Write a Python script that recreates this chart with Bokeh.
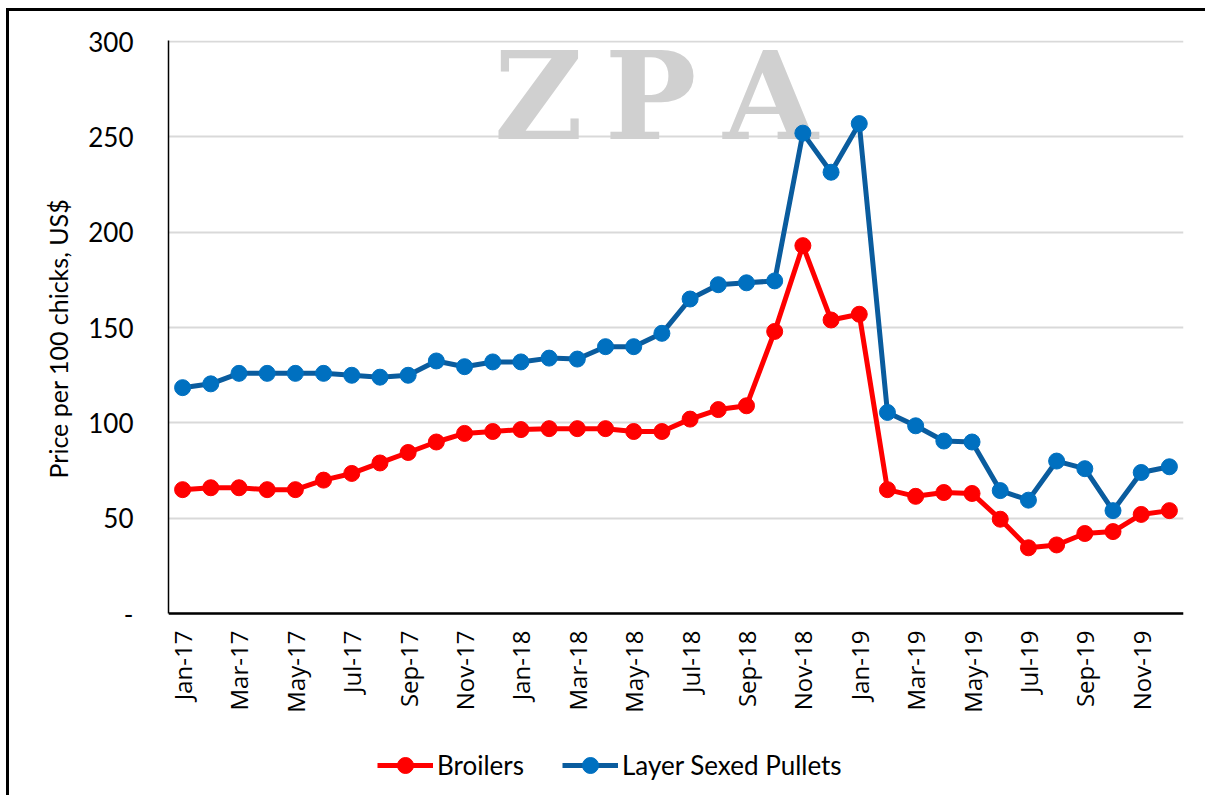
from bokeh.plotting import figure
from bokeh.models import Legend, LegendItem, Label, FixedTicker, Range1d, Title
from bokeh.embed import file_html
from bokeh.resources import INLINE

months = ["Jan-17", "Feb-17", "Mar-17", "Apr-17", "May-17", "Jun-17", "Jul-17", "Aug-17", "Sep-17", "Oct-17", "Nov-17", "Dec-17",
          "Jan-18", "Feb-18", "Mar-18", "Apr-18", "May-18", "Jun-18", "Jul-18", "Aug-18", "Sep-18", "Oct-18", "Nov-18", "Dec-18",
          "Jan-19", "Feb-19", "Mar-19", "Apr-19", "May-19", "Jun-19", "Jul-19", "Aug-19", "Sep-19", "Oct-19", "Nov-19", "Dec-19"]
broilers = [65, 66, 66, 65, 65, 70, 73.5, 79, 84.5, 90, 94.5, 95.5,
            96.5, 97, 97, 97, 95.5, 95.5, 102, 107, 109, 148, 193, 154,
            157, 65, 61.5, 63.5, 63, 49.5, 34.5, 36, 42, 43, 52, 54]
layers = [118.5, 120.5, 126, 126, 126, 126, 125, 124, 125, 132.5, 129.5, 132,
          132, 134, 133.5, 140, 140, 147, 165, 172.5, 173.5, 174.5, 252, 231.5,
          257, 105.5, 98.5, 90.5, 90, 64.5, 59.5, 80, 76, 54, 74, 77]
y_ticks = [0, 50, 100, 150, 200, 250, 300]
watermark = ["Z", "P", "A"]

x = list(range(len(months)))

# the frame extends below zero so the legend can sit under the x labels
p = figure(width=1199, height=787, output_backend="svg", toolbar_location=None,
           x_range=Range1d(-0.5, len(months) - 0.5), y_range=Range1d(-97, 300.6),
           min_border_left=159, min_border_top=29, min_border_right=25, min_border_bottom=0)
p.styles = {"border-left": "3px solid black", "border-top": "3px solid black",
            "margin-left": "6px", "margin-top": "8px"}
p.outline_line_color = None

# watermark
for i, letter in enumerate(watermark):
    p.add_layout(Label(x=370 + 112 * i + (8 if i == 2 else 0), y=631, x_units="screen", y_units="screen",
                       text=letter, text_align="center",
                       text_font="DejaVu Serif", text_font_style="bold", text_font_size="122px",
                       text_color="#d0d0d0", level="underlay"))

r_b_line = p.line(x, broilers, line_color="#ff0000", line_width=5)
r_b_pts = p.scatter(x, broilers, size=16, fill_color="#ff0000", line_color="#ff0000")
r_l_line = p.line(x, layers, line_color="#0a5c9e", line_width=5)
r_l_pts = p.scatter(x, layers, size=16, fill_color="#0070c0", line_color="#0070c0")

# axes
p.xaxis.fixed_location = 0
p.xaxis.ticker = FixedTicker(ticks=x[::2])
p.xaxis.major_label_overrides = {i: months[i] for i in x}
p.xaxis.major_label_orientation = 1.5708
p.xaxis.major_label_text_font = "Open Sans"
p.xaxis.major_label_text_font_size = "24px"
p.xaxis.major_label_text_color = "#000000"
p.xaxis.axis_line_color = "black"
p.xaxis.axis_line_width = 2.5
p.xaxis.major_tick_line_color = None
p.xaxis.minor_tick_line_color = None
p.xaxis.major_tick_out = 0
p.xaxis.major_label_standoff = 17

p.yaxis.ticker = FixedTicker(ticks=y_ticks)
p.yaxis.bounds = (0, 300.6)
p.yaxis.major_label_overrides = {0: "-"}
p.yaxis.major_label_text_font = "Lato"
p.yaxis.major_label_text_font_size = "26px"
p.yaxis.major_label_text_color = "#000000"
p.yaxis.axis_line_color = "black"
p.yaxis.axis_line_width = 1.5
p.yaxis.major_tick_line_color = None
p.yaxis.minor_tick_line_color = None
p.yaxis.major_tick_out = 0
p.yaxis.major_label_standoff = 35

ytitle = Title(text="Price per 100 chicks, US$", align="left", offset=320, standoff=25,
               text_font="Lato", text_font_style="normal", text_font_size="25px", text_color="#000000")
p.add_layout(ytitle, "left")

p.xgrid.grid_line_color = None
p.ygrid.grid_line_color = "#d9d9d9"
p.ygrid.grid_line_width = 2

legend = Legend(items=[LegendItem(label="Broilers", renderers=[r_b_line, r_b_pts]),
                       LegendItem(label="Layer Sexed Pullets", renderers=[r_l_line, r_l_pts])],
                orientation="horizontal", location=(209, 13),
                glyph_width=56, glyph_height=40, label_standoff=4, spacing=38,
                padding=0, margin=0, border_line_color=None, background_fill_alpha=0,
                label_text_font="Lato", label_text_font_size="26px", label_text_color="#000000")
p.add_layout(legend, "center")

open("out.html", "w").write(file_html(p, INLINE))
